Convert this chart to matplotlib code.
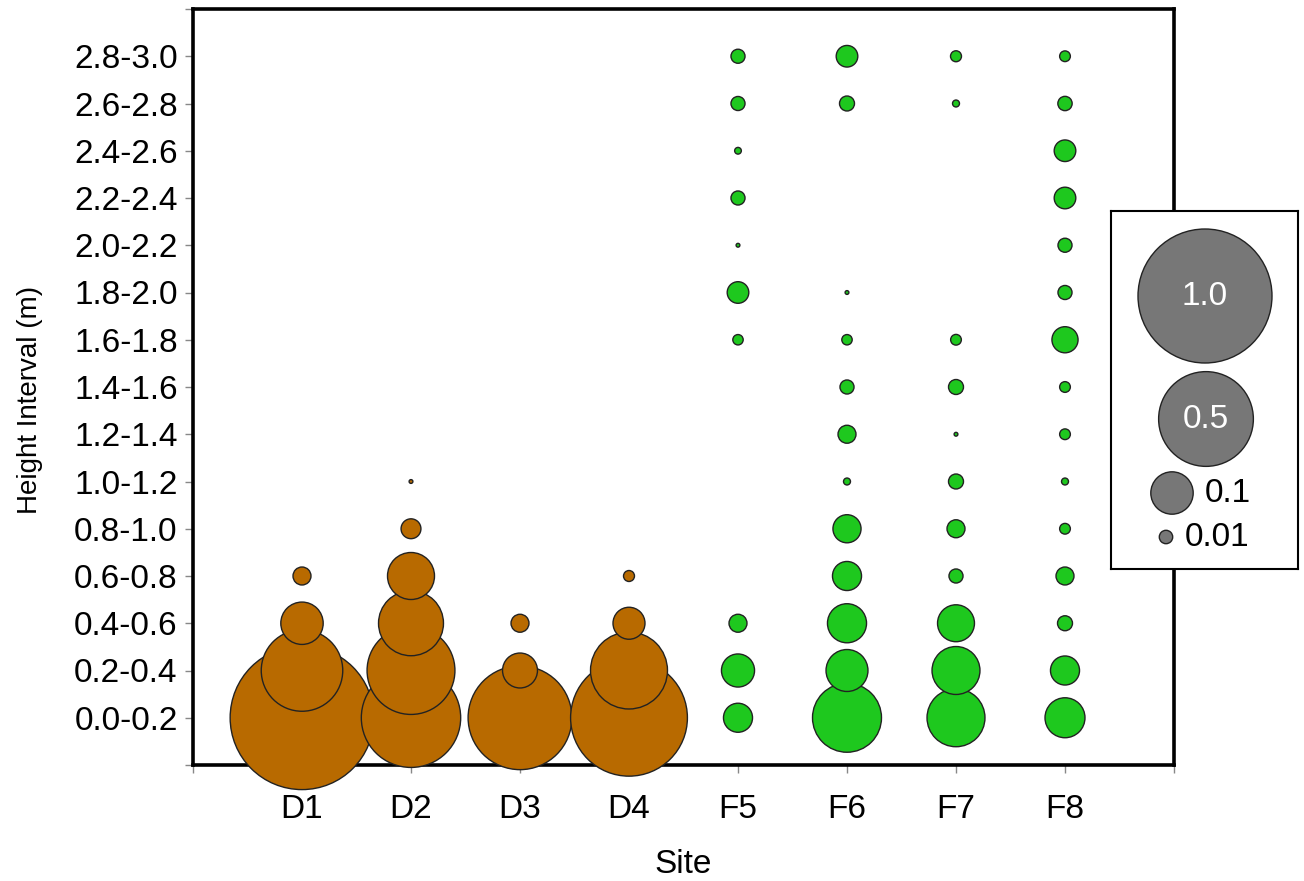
import numpy as np
import matplotlib.pyplot as plt

plt.rcParams['font.family'] = ['Liberation Sans', 'DejaVu Sans']

sites = ["D1", "D2", "D3", "D4", "F5", "F6", "F7", "F8"]
intervals = ["0.0-0.2", "0.2-0.4", "0.4-0.6", "0.6-0.8", "0.8-1.0", "1.0-1.2",
             "1.2-1.4", "1.4-1.6", "1.6-1.8", "1.8-2.0", "2.0-2.2", "2.2-2.4",
             "2.4-2.6", "2.6-2.8", "2.8-3.0"]

# relative abundance per height interval (0 = no bubble)
d1 = [1.15, 0.37, 0.10, 0.018, 0, 0, 0, 0, 0, 0, 0, 0, 0, 0, 0]
d2 = [0.55, 0.43, 0.235, 0.123, 0.022, 0.0008, 0, 0, 0, 0, 0, 0, 0, 0, 0]
d3 = [0.60, 0.068, 0.018, 0, 0, 0, 0, 0, 0, 0, 0, 0, 0, 0, 0]
d4 = [0.76, 0.33, 0.057, 0.0067, 0, 0, 0, 0, 0, 0, 0, 0, 0, 0, 0]
f5 = [0.047, 0.061, 0.018, 0, 0, 0, 0, 0, 0.006, 0.026, 0.0008, 0.011, 0.0025, 0.011, 0.011]
f6 = [0.265, 0.098, 0.085, 0.047, 0.044, 0.0027, 0.018, 0.011, 0.006, 0.0008, 0, 0, 0, 0.0125, 0.026]
f7 = [0.187, 0.128, 0.076, 0.011, 0.018, 0.0125, 0.0008, 0.0125, 0.0064, 0, 0, 0, 0, 0.0027, 0.0067]
f8 = [0.089, 0.047, 0.0125, 0.018, 0.0064, 0.0027, 0.0064, 0.0064, 0.038, 0.011, 0.011, 0.026, 0.026, 0.0114, 0.0064]
site_values = [d1, d2, d3, d4, f5, f6, f7, f8]

legend_values = [1.0, 0.5, 0.1, 0.01]
legend_labels = ["1.0", "0.5", "0.1", "0.01"]

brown = "#B86A00"
green = "#1EC81E"
grey = "#777777"
edge = "#222222"

W, H = 1304, 881
fig = plt.figure(figsize=(W / 100, H / 100), dpi=100)
ax = fig.add_axes([193 / W, 1 - 765 / H, (1174 - 193) / W, (765 - 9) / H])

# marker size: radius 67 px for value 1.0 (area proportional to value)
k = (2 * 0.72 * 67) ** 2

for i, (name, vals) in enumerate(zip(sites, site_values)):
    col = brown if name.startswith("D") else green
    vals = np.array(vals)
    rows = np.nonzero(vals > 0)[0]
    ax.scatter(np.full(len(rows), i + 1), rows, s=vals[rows] * k, c=col,
               edgecolors=edge, linewidths=1, zorder=3, clip_on=False)

ax.set_xlim(0, 9)
ax.set_ylim(-1, 15)
ax.set_xticks(range(0, 10))
ax.set_xticklabels([""] + sites + [""])
ax.set_yticks(range(-1, 16))
ax.set_yticklabels([""] + intervals + [""])
ax.tick_params(axis="x", direction="out", length=6, width=1, color="#888888",
               pad=15, labelsize=24)
ax.tick_params(axis="y", direction="out", length=6, width=1, color="#888888",
               pad=5, labelsize=24)
for sp in ax.spines.values():
    sp.set_linewidth(2.6)
ax.set_xlabel("Site", fontsize=24, labelpad=17)
ax.set_ylabel("Height Interval (m)", fontsize=20)
ax.yaxis.set_label_coords(-0.153, 0.483)

# size legend
lax = fig.add_axes([1111 / W, 1 - 569 / H, (1298 - 1111) / W, (569 - 211) / H])
lax.set_xlim(0, 187)
lax.set_ylim(358, 0)
lax.set_xticks([])
lax.set_yticks([])
for sp in lax.spines.values():
    sp.set_linewidth(1.5)
leg_x = [94, 95, 61, 55]
leg_y = [85, 208, 282, 326]
lax.scatter(leg_x, leg_y, s=np.array(legend_values) * k, c=grey,
            edgecolors=edge, linewidths=1, zorder=3)
for v, lab, x, y in zip(legend_values, legend_labels, leg_x, leg_y):
    if v >= 0.5:
        lax.text(x, y, lab, color="white", fontsize=24, ha="center", va="center")
    else:
        r = 67 * np.sqrt(v)
        lax.text(x + r + 12, y, lab, color="black", fontsize=24, ha="left", va="center")

fig.savefig("out.png", dpi=100)
